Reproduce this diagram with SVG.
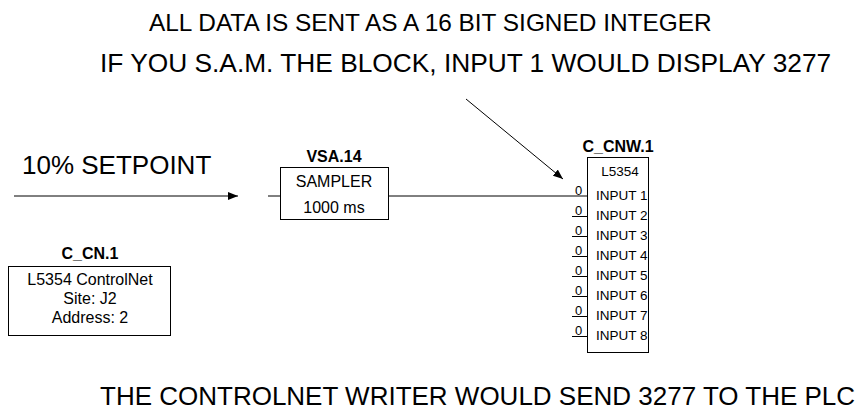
<svg xmlns="http://www.w3.org/2000/svg" width="864" height="411" viewBox="0 0 864 411">
<style>
text{font-family:"Liberation Sans",Arial,sans-serif;fill:#000}
.big{font-size:26px}
.lbl{font-size:16px}
.in{font-size:13.5px}
.ttl{font-size:16px;font-weight:bold}
.zero{font-size:13px}
.box{fill:#fff;stroke:#000;stroke-width:1}
.ln{stroke:#000;stroke-width:1;fill:none}
</style>
<defs>
<marker id="ah" markerWidth="10" markerHeight="8" refX="10" refY="4" orient="auto" markerUnits="userSpaceOnUse">
<path d="M0,0 L10,4 L0,8 z" fill="#000"/>
</marker>
</defs>
<rect width="864" height="411" fill="#fff"/>
<g id="notes">
<text class="big" x="149" y="31" style="font-size:24.4px">ALL DATA IS SENT AS A 16 BIT SIGNED INTEGER</text>
<text class="big" x="100" y="72" style="font-size:26.3px">IF YOU S.A.M. THE BLOCK, INPUT 1 WOULD DISPLAY 3277</text>
<text class="big" x="22" y="174">10% SETPOINT</text>
<text class="big" x="100" y="405">THE CONTROLNET WRITER WOULD SEND 3277 TO THE PLC</text>
</g>
<g id="connectors">
<line class="ln" x1="14" y1="196" x2="238" y2="196" marker-end="url(#ah)"/>
<line class="ln" x1="268" y1="196" x2="280" y2="196"/>
<line class="ln" x1="389" y1="196" x2="587" y2="196"/>
<line class="ln" x1="466" y1="99" x2="563" y2="179" marker-end="url(#ah)"/>
</g>
<g id="VSA14">
<text class="ttl" x="334" y="162" text-anchor="middle">VSA.14</text>
<rect class="box" x="280.5" y="167.5" width="108" height="52"/>
<text class="lbl" x="334" y="187" text-anchor="middle">SAMPLER</text>
<text class="lbl" x="334" y="213" text-anchor="middle">1000 ms</text>
</g>
<g id="C_CN1">
<text class="ttl" x="90" y="259" text-anchor="middle">C_CN.1</text>
<rect class="box" x="8.5" y="266.5" width="162" height="69"/>
<text class="lbl" x="90" y="285" text-anchor="middle">L5354 ControlNet</text>
<text class="lbl" x="90" y="304" text-anchor="middle">Site: J2</text>
<text class="lbl" x="90" y="323" text-anchor="middle">Address: 2</text>
</g>
<g id="C_CNW1">
<text class="ttl" x="618" y="152" text-anchor="middle">C_CNW.1</text>
<rect class="box" x="587.5" y="157.5" width="61" height="195"/>
<text class="in" x="620" y="176" text-anchor="middle">L5354</text>
<g class="ln">
<line x1="572" y1="216.5" x2="587" y2="216.5"/>
<line x1="572" y1="236.5" x2="587" y2="236.5"/>
<line x1="572" y1="256.5" x2="587" y2="256.5"/>
<line x1="572" y1="276.5" x2="587" y2="276.5"/>
<line x1="572" y1="296.5" x2="587" y2="296.5"/>
<line x1="572" y1="316.5" x2="587" y2="316.5"/>
<line x1="572" y1="336.5" x2="587" y2="336.5"/>
</g>
<text class="zero" x="575" y="195">0</text>
<text class="zero" x="575" y="215">0</text>
<text class="zero" x="575" y="235">0</text>
<text class="zero" x="575" y="255">0</text>
<text class="zero" x="575" y="275">0</text>
<text class="zero" x="575" y="295">0</text>
<text class="zero" x="575" y="315">0</text>
<text class="zero" x="575" y="335">0</text>
<text class="in" x="596" y="200">INPUT 1</text>
<text class="in" x="596" y="220">INPUT 2</text>
<text class="in" x="596" y="240">INPUT 3</text>
<text class="in" x="596" y="260">INPUT 4</text>
<text class="in" x="596" y="280">INPUT 5</text>
<text class="in" x="596" y="300">INPUT 6</text>
<text class="in" x="596" y="320">INPUT 7</text>
<text class="in" x="596" y="340">INPUT 8</text>
</g>
</svg>
